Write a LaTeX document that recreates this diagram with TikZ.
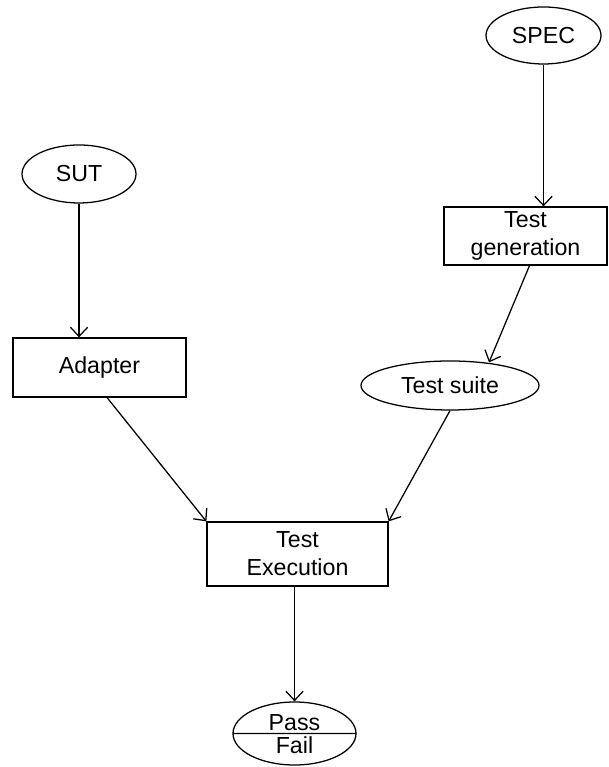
\documentclass[tikz,border=0pt]{standalone}
\usepackage{fontspec}
\setmainfont{Liberation Sans}
\usepackage{tikz}
\usetikzlibrary{arrows.meta,shapes.geometric,shapes.multipart}

\begin{document}
\begin{tikzpicture}[>={Straight Barb[length=0.23cm,width=0.43cm]}, line width=0.9pt,
  font=\fontsize{16.5}{20}\selectfont,
  oval/.style={draw, ellipse, inner sep=0pt},
  box/.style={draw, rectangle, align=center, inner sep=0pt}]

  \useasboundingbox (0,0) rectangle (15.2,19.175);

  \node[oval, minimum width=2.85cm, minimum height=1.45cm] (sut) at (1.975,14.825) {SUT};
  \node[box, minimum width=4.325cm, minimum height=1.475cm] (adapter) at (2.4875,9.9875) {Adapter};

  \node[oval, minimum width=2.875cm, minimum height=1.425cm] (spec) at (13.5875,18.2875) {SPEC};
  \node[box, minimum width=4.075cm, minimum height=1.45cm] (gen) at (13.1375,13.275) {Test\\generation};
  \node[oval, minimum width=4.45cm, minimum height=1.225cm] (suite) at (11.25,9.5375) {Test suite};

  \node[box, minimum width=4.525cm, minimum height=1.6cm] (exec) at (7.4375,5.325) {Test\\Execution};
  \node[draw, ellipse split, inner sep=1.5pt, minimum width=3.075cm, minimum height=1.575cm] (verdict) at (7.3625,0.8375)
    {Pass \nodepart{lower} Fail};

  \draw[->] (sut.south) -- (sut.south |- adapter.north);
  \draw[->] (spec.south) -- (spec.south |- gen.north);
  \draw[->] ([xshift=0.1cm]gen.south) -- ([xshift=0.975cm,yshift=-0.05cm]suite.north);
  \draw[->] ([xshift=0.19cm]adapter.south) -- (exec.north west);
  \draw[->] (suite.south) -- (exec.north east);
  \draw[->] (verdict.north |- exec.south) -- (verdict.north);

\end{tikzpicture}
\end{document}
